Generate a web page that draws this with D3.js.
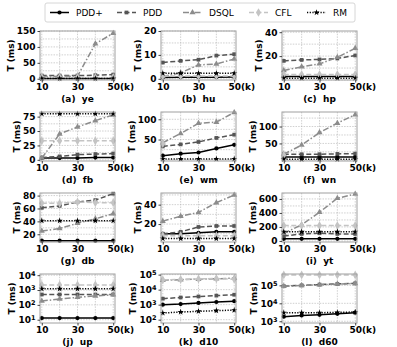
<!DOCTYPE html>
<html>
<head>
<meta charset="utf-8">
<script src="https://cdn.jsdelivr.net/npm/d3@7"></script>
<style>
  body { margin: 0; background: #fff; }
  text { font-family: "DejaVu Sans", sans-serif; }
</style>
</head>
<body>
<div id="chart"></div>
<script>
// x values (thousands of queries)
const xValues = [10, 20, 30, 40, 50];
const xTicks = [10, 30, 50];
const seriesNames = ["PDD+", "PDD", "DSQL", "CFL", "RM"];
const panelNames = ["ye", "hu", "hp", "fb", "wm", "wn", "db", "dp", "yt", "up", "d10", "d60"];

// each panel: rows are PDD+, PDD, DSQL, CFL, RM
const ye = [[1, 1, 1, 1, 1], [10, 10, 10, 11, 13], [6, 8, 8, 110, 143], [4, 4, 4, 4, 4], [0.5, 0.5, 0.5, 0.5, 0.5]];
const hu = [[0.5, 0.6, 0.7, 0.7, 0.8], [6.8, 7.5, 8, 9.7, 10.3], [1, 2.5, 5.8, 6.2, 8.3], [1.2, 1.2, 1.2, 1.2, 1.2], [2.3, 2.3, 2.3, 2.3, 2.3]];
const hp = [[3, 3, 3, 3, 3], [16, 16.8, 17.2, 18, 20.5], [8, 11, 13.5, 19, 26.5], [4.5, 4.5, 4.5, 4.5, 4.5], [1.5, 1.5, 1.5, 1.5, 1.5]];
const fb = [[3, 3, 3, 4, 4], [4, 6, 9, 10, 11], [3, 45, 57, 68, 78], [33, 33, 33, 33, 33], [80, 80, 80, 80, 80]];
const wm = [[10, 15, 18, 28, 37], [33, 38, 44, 54, 62], [42, 65, 90, 93, 117], [40, null, null, null, null], [2, 2, 2, 2, 2]];
const wn = [[10, 10, 10, 10, 10], [18, 18, 18, 19, 20], [18, 45, 82, 110, 135], [15, null, null, null, null], [3, 3, 3, 3, 3]];
const db = [[10, 10, 10, 10, 10], [61, 64, 70, 73, 83], [25, 29, 37, 44, 52], [68, 68, 70, 69, 69], [41, 41, 41, 41, 41]];
const dp = [[10, 10, 11, 12, 12], [10, 12, 17, 18, 18], [23, 28, 32, 42, 50], [8, 8, 8, 8, 8], [5, 5, 5, 5, 5]];
const yt = [[30, 30, 30, 30, 30], [70, 100, 110, 100, 100], [110, 230, 410, 610, 670], [220, 220, 220, 220, 220], [130, 130, 130, 130, 130]];
const up = [[13, 13, 13, 13, 13], [500, 500, 500, 500, 500], [180, 250, 320, 400, 480], [2200, 2200, 2200, 2200, 2200], [1200, 1200, 1200, 1200, 1200]];
const d10 = [[1000, 1100, 1300, 1500, 1700], [2500, 3000, 3500, 4000, 4600], [42000, 46000, 50000, 53000, 58000], [45000, 48000, 52000, 55000, 50000], [280, 320, 360, 400, 430]];
const d60 = [[1800, 2100, 2300, 2600, 3000], [90000, 100000, 110000, 120000, 130000], [88000, 98000, 108000, 118000, 128000], [380000, 380000, 380000, 380000, 380000], [3000, 3000, 3000, 3100, 3300]];

const panelData = [ye, hu, hp, fb, wm, wn, db, dp, yt, up, d10, d60];
const panelTicks = [[0, 50, 100, 150], [0, 10, 20], [20, 40], [0, 25, 50, 75], [50, 100], [50, 100],
    [20, 40, 60, 80], [20, 40], [0, 200, 400, 600], [1e1, 1e2, 1e3, 1e4], [1e2, 1e3, 1e4, 1e5], [1e3, 1e4, 1e5]];

// axis config (not data)
const panelDomains = [[-4, 150], [-0.5, 20], [0, 41], [-2, 83], [-3, 118], [-2, 143],
    [8, 84], [1.5, 52], [-15, 685], [6, 12000], [60, 110000], [800, 430000]];
const logPanels = [false, false, false, false, false, false, false, false, false, true, true, true];

const styles = [
    { color: "#000", dash: null, marker: "circle", size: 14 },
    { color: "#555", dash: "5,2.5", marker: "square", size: 14 },
    { color: "#8c8c8c", dash: "6,2,1.5,2", marker: "triangle", size: 16 },
    { color: "#c4c4c4", dash: "5,2.5", marker: "diamond", size: 22 },
    { color: "#000", dash: "1.2,1.5", marker: "star", size: 12 }
];
const symbolTypes = { circle: d3.symbolCircle, square: d3.symbolSquare, triangle: d3.symbolTriangle, diamond: d3.symbolDiamond, star: d3.symbolStar };

const colX = [40, 161, 282], rowY = [31, 112, 193, 274];
const pw = 75, ph = 49;

const svg = d3.select("#chart").append("svg")
    .attr("width", 397)
    .attr("height", 347);

// Legend
const legend = svg.append("g");
legend.append("rect")
    .attr("x", 45).attr("y", 3).attr("width", 310).attr("height", 19)
    .attr("rx", 2).attr("fill", "#fff").attr("stroke", "#ccc").attr("stroke-width", 0.8);
const legendX = [50, 117, 183, 249, 307];
seriesNames.forEach((name, i) => {
    const s = styles[i];
    const lx = legendX[i];
    legend.append("line")
        .attr("x1", lx).attr("x2", lx + 19).attr("y1", 12.5).attr("y2", 12.5)
        .attr("stroke", s.color).attr("stroke-width", 1.5)
        .attr("stroke-dasharray", s.dash);
    legend.append("path")
        .attr("d", d3.symbol().type(symbolTypes[s.marker]).size(s.size)())
        .attr("transform", `translate(${lx + 9.5},12.5)`)
        .attr("fill", s.color);
    legend.append("text")
        .attr("x", lx + 26).attr("y", 15.5)
        .attr("font-size", 9)
        .attr("fill", "#000")
        .text(name);
});

panelData.forEach((rows, p) => {
    const col = p % 3, row = Math.floor(p / 3);
    const g = svg.append("g").attr("transform", `translate(${colX[col]},${rowY[row]})`);
    const isLog = logPanels[p];

    const x = d3.scaleLinear().domain([9, 51]).range([0, pw]);
    const y = (isLog ? d3.scaleLog() : d3.scaleLinear()).domain(panelDomains[p]).range([ph, 0]);

    // grid
    xValues.forEach(v => {
        g.append("line")
            .attr("x1", x(v)).attr("x2", x(v)).attr("y1", 0).attr("y2", ph)
            .attr("stroke", "#b0b0b0").attr("stroke-width", 0.6).attr("stroke-dasharray", "1.5,1.2");
    });
    const ticks = panelTicks[p];
    let gridVals = ticks.slice();
    if (!isLog) {
        const step = ticks[1] - ticks[0];
        const lo = panelDomains[p][0], hi = panelDomains[p][1];
        gridVals = d3.range(ticks[0] - step * 2, hi + step, step / 2).filter(v => v >= lo && v <= hi);
    }
    gridVals.forEach(v => {
        g.append("line")
            .attr("x1", 0).attr("x2", pw).attr("y1", y(v)).attr("y2", y(v))
            .attr("stroke", "#b0b0b0").attr("stroke-width", 0.6).attr("stroke-dasharray", "1.5,1.2");
    });

    // series
    rows.forEach((vals, si) => {
        const s = styles[si];
        const pts = xValues.map((xv, k) => ({ x: xv, y: vals[k] }));
        const line = d3.line()
            .defined(d => d.y != null)
            .x(d => x(d.x))
            .y(d => y(d.y));
        g.append("path")
            .datum(pts)
            .attr("d", line)
            .attr("fill", "none")
            .attr("stroke", s.color)
            .attr("stroke-width", 1.5)
            .attr("stroke-dasharray", s.dash);
        g.selectAll(null)
            .data(pts.filter(d => d.y != null))
            .join("path")
            .attr("d", d3.symbol().type(symbolTypes[s.marker]).size(s.size)())
            .attr("transform", d => `translate(${x(d.x)},${y(d.y)})`)
            .attr("fill", s.color);
    });

    // frame
    g.append("rect")
        .attr("width", pw).attr("height", ph)
        .attr("fill", "none").attr("stroke", "#a0a0a0").attr("stroke-width", 1);

    // y axis
    const yAxis = g.append("g")
        .call(d3.axisLeft(y).tickValues(ticks).tickSize(2.5).tickPadding(2)
            .tickFormat(d => isLog ? "" : d));
    yAxis.select(".domain").remove();
    yAxis.selectAll("line").attr("stroke", "#444");
    yAxis.selectAll("text")
        .attr("font-size", 9).attr("font-weight", "bold").attr("fill", "#000")
        .attr("font-family", "DejaVu Sans");
    if (isLog) {
        yAxis.selectAll("text").each(function (d) {
            const t = d3.select(this);
            t.append("tspan").text("10");
            t.append("tspan").attr("dy", "-0.45em").attr("font-size", 6.5).text(Math.round(Math.log10(d)));
        });
    }

    // x axis, last label carries the "(k)" unit
    const xAxis = g.append("g")
        .attr("transform", `translate(0,${ph})`)
        .call(d3.axisBottom(x).tickValues(xTicks).tickSize(2.5).tickPadding(1.5));
    xAxis.select(".domain").remove();
    xAxis.selectAll("line").attr("stroke", "#444");
    xAxis.selectAll("text")
        .attr("font-size", 9).attr("font-weight", "bold").attr("fill", "#000")
        .attr("font-family", "DejaVu Sans");
    xAxis.selectAll("text").filter(d => d === 50)
        .attr("text-anchor", "start")
        .attr("x", -6.3)
        .text("50(k)");

    // y title
    const bb = yAxis.node().getBBox();
    g.append("text")
        .attr("transform", `translate(${bb.x - 3},${ph / 2}) rotate(-90)`)
        .attr("text-anchor", "middle")
        .attr("font-size", 9).attr("font-weight", "bold")
        .text("T (ms)");

    // caption
    g.append("text")
        .attr("x", pw / 2).attr("y", ph + 22)
        .attr("text-anchor", "middle")
        .attr("font-size", 9).attr("font-weight", "bold")
        .style("white-space", "pre")
        .text(`(${"abcdefghijkl"[p]})  ${panelNames[p]}`);
});
</script>
</body>
</html>
